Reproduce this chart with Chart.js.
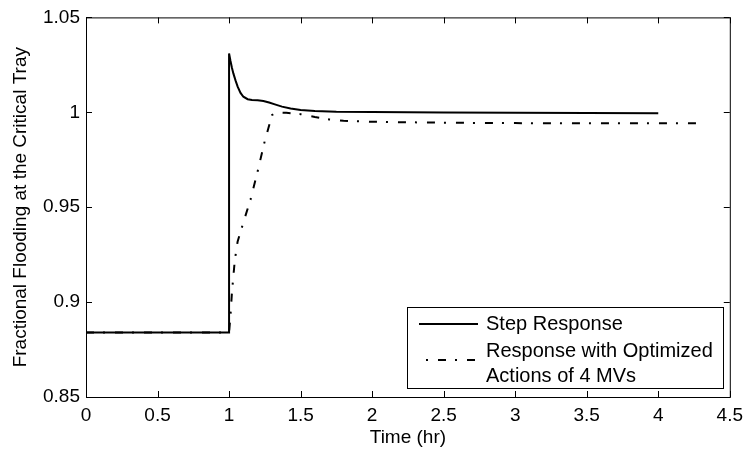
<!DOCTYPE html>
<html>
<head>
<meta charset="utf-8">
<script src="https://cdn.jsdelivr.net/npm/chart.js@4/dist/chart.umd.min.js"></script>
<style>
  body { margin: 0; background: #fff; }
  #wrap { width: 750px; height: 455px; }
</style>
</head>
<body>
<div id="wrap"><canvas id="myChart" width="750" height="455"></canvas></div>
<script>
// step response (solid line)
const stepTime = [0, 1, 1, 1.01, 1.02, 1.03, 1.045, 1.06, 1.08, 1.1, 1.13, 1.16, 1.2, 1.24, 1.28, 1.32, 1.37, 1.43, 1.5, 1.6, 1.75, 2.0, 2.5, 3.0, 3.5, 4.0];
const stepValue = [0.884, 0.884, 1.031, 1.027, 1.0235, 1.0205, 1.0168, 1.0135, 1.0102, 1.0082, 1.0069, 1.0065, 1.0064, 1.006, 1.0052, 1.0042, 1.003, 1.002, 1.0012, 1.0007, 1.0003, 1.0001, 0.9999, 0.9997, 0.9996, 0.9995];

// response with optimized actions (dash-dot line)
const optTime = [0, 1, 1.01, 1.02, 1.04, 1.06, 1.1, 1.15, 1.2, 1.25, 1.28, 1.3, 1.32, 1.4, 1.5, 1.6, 1.7, 1.8, 2.0, 2.5, 3.0, 3.5, 4.3];
const optValue = [0.884, 0.884, 0.893, 0.905, 0.922, 0.932, 0.942, 0.954, 0.969, 0.985, 0.993, 0.9985, 0.9998, 0.9997, 0.999, 0.9975, 0.9962, 0.9955, 0.995, 0.9945, 0.9943, 0.9942, 0.9942];

const xTicks = [0, 0.5, 1, 1.5, 2, 2.5, 3, 3.5, 4, 4.5];
const yTicks = [0.85, 0.9, 0.95, 1, 1.05];

const legendLabels = ['Step Response', ['Response with Optimized', 'Actions of 4 MVs']];

const FONT = 'Liberation Sans, Arial, Helvetica, sans-serif';
const DASH_DOT = [8, 9, 2, 10];

function toPoints(xs, ys) {
  return xs.map((x, i) => ({ x: x, y: ys[i] }));
}

// box round the plot with ticks pointing inwards, matlab style
const framePlugin = {
  id: 'frame',
  afterDraw(chart) {
    const ctx = chart.ctx;
    const a = chart.chartArea;
    const xs = chart.scales.x;
    const ys = chart.scales.y;
    ctx.save();
    ctx.strokeStyle = '#000';
    ctx.lineWidth = 1;
    ctx.strokeRect(a.left + 0.5, a.top + 0.5, a.right - a.left, a.bottom - a.top);
    ctx.beginPath();
    xTicks.forEach(v => {
      const px = Math.round(xs.getPixelForValue(v)) + 0.5;
      ctx.moveTo(px, a.bottom);
      ctx.lineTo(px, a.bottom - 6);
      ctx.moveTo(px, a.top);
      ctx.lineTo(px, a.top + 6);
    });
    yTicks.forEach(v => {
      const py = Math.round(ys.getPixelForValue(v)) + 0.5;
      ctx.moveTo(a.left, py);
      ctx.lineTo(a.left + 6, py);
      ctx.moveTo(a.right, py);
      ctx.lineTo(a.right - 6, py);
    });
    ctx.stroke();
    ctx.restore();
  }
};

// legend box inside the plot, lower right
const legendPlugin = {
  id: 'boxLegend',
  afterDraw(chart) {
    const ctx = chart.ctx;
    const left = 407, top = 307, right = 723, bottom = 388;
    ctx.save();
    ctx.fillStyle = '#fff';
    ctx.fillRect(left, top, right - left, bottom - top);
    ctx.strokeStyle = '#000';
    ctx.lineWidth = 1;
    ctx.strokeRect(left + 0.5, top + 0.5, right - left, bottom - top);

    ctx.lineWidth = 2;
    ctx.beginPath();
    ctx.moveTo(419, 324);
    ctx.lineTo(478, 324);
    ctx.stroke();

    ctx.setLineDash(DASH_DOT);
    ctx.lineDashOffset = 10;
    ctx.beginPath();
    ctx.moveTo(419, 360);
    ctx.lineTo(478, 360);
    ctx.stroke();
    ctx.setLineDash([]);

    ctx.fillStyle = '#000';
    ctx.font = '20px ' + FONT;
    ctx.textBaseline = 'middle';
    ctx.textAlign = 'left';
    ctx.fillText(legendLabels[0], 486, 324);
    ctx.fillText(legendLabels[1][0], 486, 351);
    ctx.fillText(legendLabels[1][1], 486, 376);
    ctx.restore();
  }
};

const chart = new Chart(
  document.getElementById('myChart'),
  {
    type: 'scatter',
    data: {
      datasets: [
        {
          label: 'Step Response',
          data: toPoints(stepTime, stepValue),
          showLine: true,
          borderColor: '#000',
          borderWidth: 2,
          pointRadius: 0,
          tension: 0,
        },
        {
          label: 'Response with Optimized Actions of 4 MVs',
          data: toPoints(optTime, optValue),
          showLine: true,
          borderColor: '#000',
          borderWidth: 2,
          borderDash: DASH_DOT,
          pointRadius: 0,
          tension: 0,
        },
      ],
    },
    options: {
      responsive: false,
      animation: false,
      layout: {
        padding: { left: 0, top: 12, right: 16, bottom: 0 },
      },
      plugins: {
        legend: { display: false },
        tooltip: { enabled: false },
      },
      scales: {
        x: {
          type: 'linear',
          min: 0,
          max: 4.5,
          afterFit: (scale) => { scale.height = 58; },
          afterBuildTicks: (scale) => { scale.ticks = xTicks.map(v => ({ value: v })); },
          grid: { display: false, drawTicks: false },
          border: { display: false },
          ticks: {
            padding: 7,
            color: '#000',
            maxRotation: 0,
            font: { family: FONT, size: 19 },
            callback: (v) => String(v),
          },
          title: {
            display: true,
            text: 'Time (hr)',
            color: '#000',
            font: { family: FONT, size: 19 },
            padding: { top: 0, bottom: 6 },
          },
        },
        y: {
          type: 'linear',
          min: 0.85,
          max: 1.05,
          afterFit: (scale) => { scale.width = 86; },
          afterBuildTicks: (scale) => { scale.ticks = yTicks.map(v => ({ value: v })); },
          grid: { display: false, drawTicks: false },
          border: { display: false },
          ticks: {
            padding: 6,
            color: '#000',
            font: { family: FONT, size: 19 },
            callback: (v) => String(Number(v.toFixed(2))),
          },
          title: {
            display: true,
            text: 'Fractional Flooding at the Critical Tray',
            color: '#000',
            font: { family: FONT, size: 19 },
            padding: { top: 9, bottom: 0 },
          },
        },
      },
    },
    plugins: [framePlugin, legendPlugin],
  }
);
</script>
</body>
</html>
